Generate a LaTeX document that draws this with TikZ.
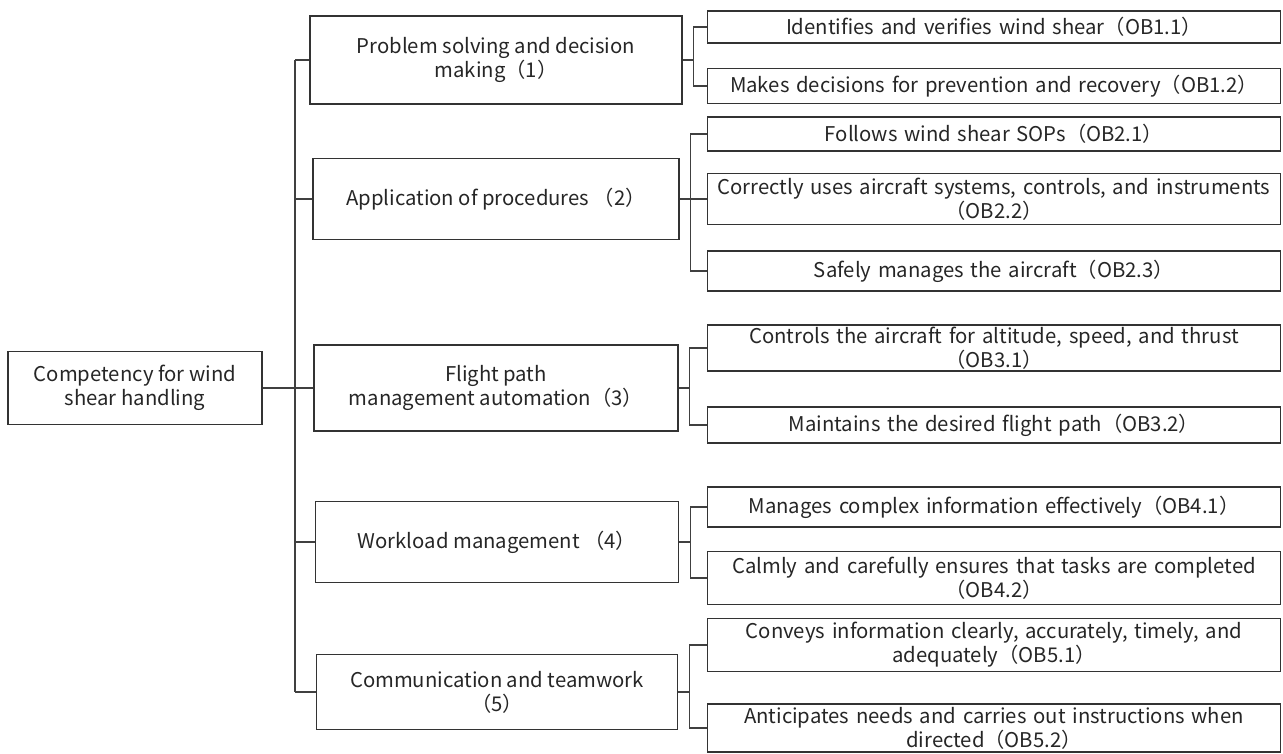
\documentclass[tikz,border=0pt]{standalone}
\usepackage{fontspec}
\setmainfont{Noto Sans CJK SC}
\tikzset{
  box/.style={draw=black!80, line width=1.3pt, align=center, inner sep=1pt,
    font=\fontsize{20.3}{24}\selectfont, text=black!85},
  obbox/.style={box, minimum width=573pt, text width=568pt},
  link/.style={draw=black!75, line width=1.3pt}
}
\begin{document}
\begin{tikzpicture}[x=1pt,y=-1pt]
\useasboundingbox (0,0) rectangle (1283,753);

% Wurzel und Kompetenzen
\node[box, minimum width=254pt, minimum height=73pt] (root) at (135,388) {Competency for wind\\shear handling};
\node[box, minimum width=372pt, minimum height=88pt] (B1) at (496,60) {Problem solving and decision\\making（1）};
\node[box, minimum width=366pt, minimum height=81pt] (B2) at (496,199) {Application of procedures （2）};
\node[box, minimum width=364pt, minimum height=86pt] (B3) at (496,388) {Flight path\\management automation（3）};
\node[box, minimum width=363pt, minimum height=81pt] (B4) at (497,542) {Workload management （4）};
\node[box, minimum width=361pt, minimum height=75pt] (B5) at (497,692) {Communication and teamwork\\（5）};

% Beobachtbare Verhaltensweisen
\node[obbox, minimum height=32pt] (OB11) at (994,27) {Identifies and verifies wind shear（OB1.1）};
\node[obbox, minimum height=35pt] (OB12) at (994,86) {Makes decisions for prevention and recovery（OB1.2）};
\node[obbox, minimum height=34pt] (OB21) at (994,134) {Follows wind shear SOPs（OB2.1）};
\node[obbox, minimum height=51pt] (OB22) at (994,199) {Correctly uses aircraft systems, controls, and instruments\\（OB2.2）};
\node[obbox, minimum height=40pt] (OB23) at (994,271) {Safely manages the aircraft（OB2.3）};
\node[obbox, minimum height=46pt] (OB31) at (994,348) {Controls the aircraft for altitude, speed, and thrust\\（OB3.1）};
\node[obbox, minimum height=36pt] (OB32) at (994,425) {Maintains the desired flight path（OB3.2）};
\node[obbox, minimum height=40pt] (OB41) at (994,507) {Manages complex information effectively（OB4.1）};
\node[obbox, minimum height=53pt] (OB42) at (994,578) {Calmly and carefully ensures that tasks are completed\\（OB4.2）};
\node[obbox, minimum height=53pt] (OB51) at (994,645) {Conveys information clearly, accurately, timely, and\\adequately（OB5.1）};
\node[obbox, minimum height=48pt] (OB52) at (994,728) {Anticipates needs and carries out instructions when\\directed（OB5.2）};

% Stamm
\coordinate (trunk) at (295,0);
\draw[link] (root.east) -- (root.east -| trunk);
\draw[link] (B1.west -| trunk) -- (B5.west -| trunk);
\foreach \b in {B1,B2,B3,B4,B5}
  \draw[link] (\b.west -| trunk) -- (\b.west);

% Gabeln
\foreach \b/\ob in {B1/OB11,B1/OB12,B2/OB21,B2/OB22,B2/OB23,B3/OB31,B3/OB32,B4/OB41,B4/OB42,B5/OB51,B5/OB52}
  \draw[link] (\b.east) -- ++(11,0) |- (\ob.west);

\end{tikzpicture}
\end{document}
